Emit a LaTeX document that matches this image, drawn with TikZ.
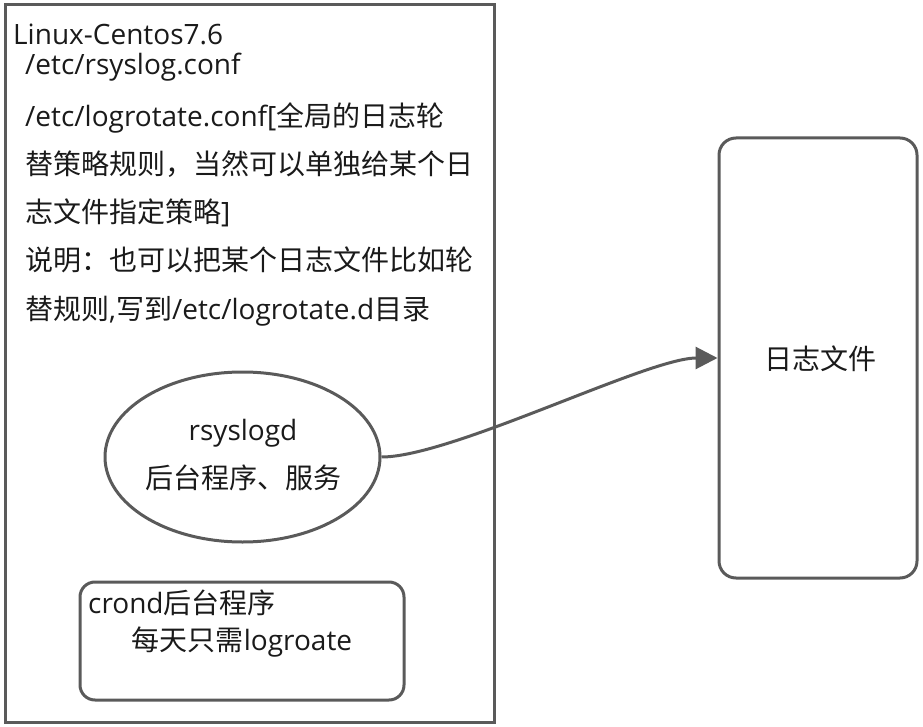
\documentclass[tikz,border=0pt]{standalone}
\usepackage{fontspec}
\setmainfont{Open Sans}
\newfontfamily\zhfont{Noto Sans CJK SC}
\newcommand{\zh}[1]{{\zhfont #1}}
\usetikzlibrary{arrows.meta,shapes.geometric,positioning}
\definecolor{edge}{HTML}{5A5A5A}
\definecolor{ink}{HTML}{1A1A1A}

\begin{document}
\begin{tikzpicture}[x=1pt,y=-1pt,
  box/.style={draw=edge,line width=3pt,inner sep=0pt},
  txt/.style={text=ink,font=\fontsize{28}{48}\selectfont,inner sep=0pt},
  conn/.style={draw=edge,line width=3pt,-{Triangle[length=22pt,width=22pt]}}]
 \useasboundingbox (0,0) rectangle (923,727);
 % host machine
 \node[box,minimum width=489pt,minimum height=717pt] (host) at (249.5,363.5) {};
 \node[txt,anchor=base west] (os) at (13,45) {Linux-Centos7.6};
 \node[txt,anchor=base west] (rsyscfg) at (25,75) {/etc/rsyslog.conf};
 % logrotate notes
 \foreach \line [count=\i] in {%
   {/etc/logrotate.conf[\zh{全局的日志轮}},
   {\zh{替策略规则，当然可以单独给某个日}},
   {\zh{志文件指定策略}]},
   {\zh{说明：也可以把某个日志文件比如轮}},
   {\zh{替规则},\zh{写到}/etc/logrotate.d\zh{目录}}}
   \node[txt,anchor=base west] (note\i) at (25,{127+48*(\i-1)}) {\line};
 % daemon
 \node[box,ellipse,minimum width=275pt,minimum height=170pt] (rsyslogd) at (242.5,457) {};
 \node[txt,anchor=base] (rsysname) at (243,440) {rsyslogd};
 \node[txt,anchor=base] (rsysdesc) at (243,488) {\zh{后台程序、服务}};
 % cron job
 \node[box,rounded corners=15pt,minimum width=324pt,minimum height=118pt] (crond) at (242,641) {};
 \node[txt,anchor=base west] (crondname) at (88,613) {crond\zh{后台程序}};
 \node[txt,anchor=base] (cronddesc) at (242,650) {\zh{每天只需}logroate};
 % log files
 \node[box,rounded corners=17pt,minimum width=198pt,minimum height=440pt] (logfile) at (818,358) {};
 \node[txt] (logname) at (820,359) {\zh{日志文件}};
 \draw[conn] (rsyslogd.east) .. controls +(70,0) and +(-70,0) .. (logfile.west);
\end{tikzpicture}
\end{document}
